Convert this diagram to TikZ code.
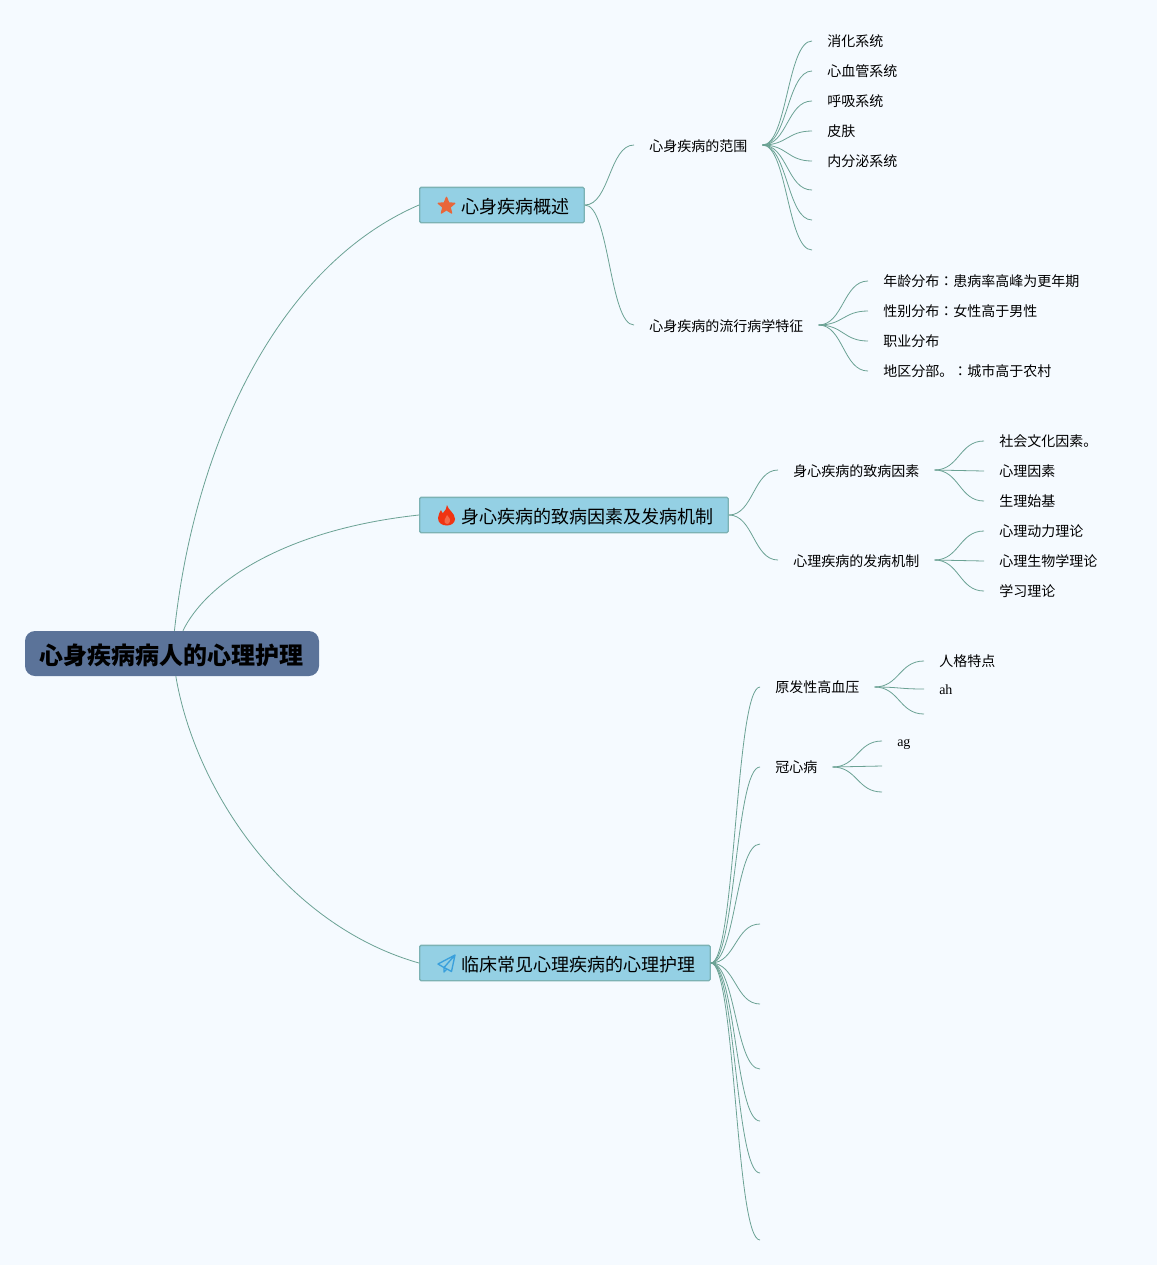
\documentclass[tikz,border=0pt]{standalone}
\usepackage{fontspec}
\setmainfont{Liberation Serif}
\newfontfamily\cjkfont{Noto Sans CJK JP}
\usetikzlibrary{calc}
\usetikzlibrary{shapes.geometric}
\definecolor{pagebg}{HTML}{F5FAFF}
\definecolor{rootfill}{HTML}{5B7399}
\definecolor{boxfill}{HTML}{94D0E4}
\definecolor{boxline}{HTML}{7CB2B4}
\definecolor{linkcol}{HTML}{6BA294}
\definecolor{starcol}{HTML}{E8663A}
\definecolor{flamecol}{HTML}{F03412}
\definecolor{flamemid}{HTML}{F4694A}
\definecolor{planecol}{HTML}{3AA0DC}
\tikzset{
    rootbox/.style={fill=rootfill, rounded corners=7.5pt, inner xsep=11.25pt, minimum height=33.75pt,
        text height=19pt, text depth=2pt, font=\cjkfont\bfseries\fontsize{18}{20}\selectfont},
    topicbox/.style={draw=boxline, line width=1pt, fill=boxfill, rounded corners=1pt, anchor=west, inner xsep=10.9pt,
        minimum height=26.5pt, text height=14.5pt, text depth=1.7pt, font=\cjkfont\fontsize{13.5}{16}\selectfont},
    itembox/.style={anchor=west, inner xsep=11.25pt, inner ysep=0pt, text height=9pt, text depth=1.5pt,
        font=\cjkfont\fontsize{10.5}{12}\selectfont},
    groupbox/.style={itembox, text height=10.5pt},
    latinbox/.style={anchor=west, inner xsep=11.25pt, inner ysep=0pt, text height=9pt, text depth=1.5pt,
        font=\fontsize{10.5}{12}\selectfont},
    branch/.style={draw=linkcol, line width=0.6pt}
}
\newcommand{\linkto}[2]{\draw[branch] (#1) .. controls ($(#1)!0.5!(#2 |- #1)$) and ($(#2)!0.5!(#1 |- #2)$) .. (#2);}
\newcommand{\iconpad}{\hspace{20.6pt}}

\begin{document}
\begin{tikzpicture}[x=0.75pt, y=-0.75pt]

    % Page
    \fill[pagebg] (0,0) rectangle (1157,1265);
    \useasboundingbox (0,0) rectangle (1157,1265);

    % Root and the three topics
    \node[rootbox] (root) at (172,653.5) {心身疾病病人的心理护理};
    \node[topicbox] (overview) at (419,205) {\iconpad 心身疾病概述};
    \node[topicbox] (causes) at (419,515) {\iconpad 身心疾病的致病因素及发病机制};
    \node[topicbox] (clinical) at (419,963) {\iconpad 临床常见心理疾病的心理护理};

    \draw[branch] (root) .. controls (195,440) and (280,265) .. (overview.west);
    \draw[branch] (root) .. controls (205,585) and (280,530) .. (causes.west);
    \draw[branch] (root) .. controls (195,790) and (285,925) .. (clinical.west);

    % Icons
    \node[star, star points=5, star point ratio=2.3, fill=starcol, draw=starcol, line join=round, line width=1pt,
        minimum size=13pt, inner sep=0pt] (staricon) at (446.5,206) {};
    \fill[flamecol] (447,505) .. controls (448,510) and (455,513) .. (455,519)
        .. controls (455,523) and (451,525.5) .. (447,525.5)
        .. controls (442,525.5) and (438,523) .. (438,518)
        .. controls (438,515) and (440,512) .. (441,510)
        .. controls (442,512) and (442,513) .. (443,513)
        .. controls (445,511) and (447,508) .. (447,505) -- cycle;
    \fill[flamemid] (447,515) .. controls (449,518) and (451,519) .. (450,521)
        .. controls (450,523) and (448,524) .. (447,524)
        .. controls (445,524) and (444,522) .. (444.5,520)
        .. controls (445,518) and (446,517) .. (447,515) -- cycle;
    \draw[planecol, line width=1pt, line join=round] (455,955) -- (438,964) -- (444,967.5) -- (455,955) -- (451.5,971.5) -- (447,969)
        (444,967.5) -- (444,972) -- (447,969) -- (444,967.5);

    % Range of the diseases
    \node[groupbox] (range) at (634,145) {心身疾病的范围};
    \linkto{overview.east}{range.west}
    \node[itembox] (digest) at (812,41) {消化系统};
    \node[itembox] (heart) at (812,71) {心血管系统};
    \node[itembox] (breath) at (812,101) {呼吸系统};
    \node[itembox] (skin) at (812,131) {皮肤};
    \node[itembox] (endo) at (812,161) {内分泌系统};
    \coordinate (rangeA) at (812,190);
    \coordinate (rangeB) at (812,220);
    \coordinate (rangeC) at (812,250);
    \linkto{range.east}{digest.west}
    \linkto{range.east}{heart.west}
    \linkto{range.east}{breath.west}
    \linkto{range.east}{skin.west}
    \linkto{range.east}{endo.west}
    \linkto{range.east}{rangeA}
    \linkto{range.east}{rangeB}
    \linkto{range.east}{rangeC}

    % Epidemiology
    \node[groupbox] (epidem) at (634,325) {心身疾病的流行病学特征};
    \linkto{overview.east}{epidem.west}
    \node[itembox] (age) at (868,281) {年龄分布：患病率高峰为更年期};
    \node[itembox] (gender) at (868,311) {性别分布：女性高于男性};
    \node[itembox] (job) at (868,341) {职业分布};
    \node[itembox] (area) at (868,371) {地区分部。：城市高于农村};
    \linkto{epidem.east}{age.west}
    \linkto{epidem.east}{gender.west}
    \linkto{epidem.east}{job.west}
    \linkto{epidem.east}{area.west}

    % Causes
    \node[groupbox] (factor) at (778,470) {身心疾病的致病因素};
    \linkto{causes.east}{factor.west}
    \node[itembox] (social) at (984,441) {社会文化因素。};
    \node[itembox] (mental) at (984,471) {心理因素};
    \node[itembox] (biology) at (984,501) {生理始基};
    \linkto{factor.east}{social.west}
    \linkto{factor.east}{mental.west}
    \linkto{factor.east}{biology.west}

    % Mechanism
    \node[groupbox] (mechanism) at (778,560) {心理疾病的发病机制};
    \linkto{causes.east}{mechanism.west}
    \node[itembox] (dynamic) at (984,531) {心理动力理论};
    \node[itembox] (biotheory) at (984,561) {心理生物学理论};
    \node[itembox] (learning) at (984,591) {学习理论};
    \linkto{mechanism.east}{dynamic.west}
    \linkto{mechanism.east}{biotheory.west}
    \linkto{mechanism.east}{learning.west}

    % Clinical diseases
    \node[itembox] (pressure) at (760,687) {原发性高血压};
    \node[itembox] (coronary) at (760,767) {冠心病};
    \coordinate (clinicA) at (760,844);
    \coordinate (clinicB) at (760,924);
    \coordinate (clinicC) at (760,1004);
    \coordinate (clinicD) at (760,1069);
    \coordinate (clinicE) at (760,1121);
    \coordinate (clinicF) at (760,1173);
    \coordinate (clinicG) at (760,1240);
    \linkto{clinical.east}{pressure.west}
    \linkto{clinical.east}{coronary.west}
    \linkto{clinical.east}{clinicA}
    \linkto{clinical.east}{clinicB}
    \linkto{clinical.east}{clinicC}
    \linkto{clinical.east}{clinicD}
    \linkto{clinical.east}{clinicE}
    \linkto{clinical.east}{clinicF}
    \linkto{clinical.east}{clinicG}

    % Leaves of the first two diseases
    \node[itembox] (persona) at (924,661) {人格特点};
    \node[latinbox] (ah) at (924,689) {ah};
    \coordinate (pressureC) at (924,714);
    \linkto{pressure.east}{persona.west}
    \linkto{pressure.east}{ah.west}
    \linkto{pressure.east}{pressureC}
    \node[latinbox] (ag) at (882,741) {ag};
    \coordinate (coronaryB) at (882,766);
    \coordinate (coronaryC) at (882,792);
    \linkto{coronary.east}{ag.west}
    \linkto{coronary.east}{coronaryB}
    \linkto{coronary.east}{coronaryC}

\end{tikzpicture}
\end{document}
